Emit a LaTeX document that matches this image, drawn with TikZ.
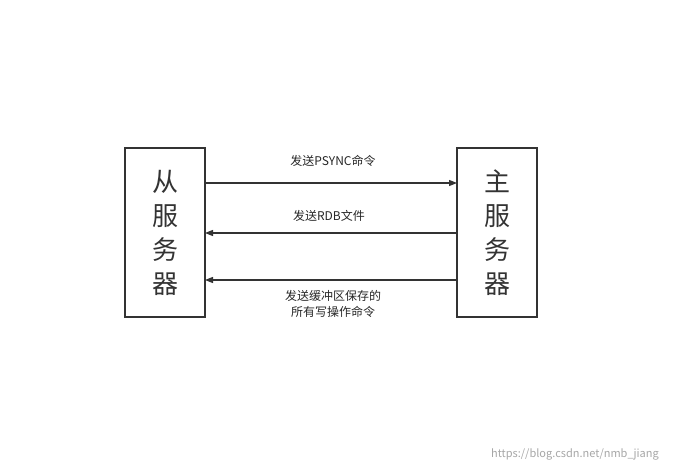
\documentclass[tikz,border=0pt]{standalone}
\usepackage{fontspec}
\setmainfont{Noto Sans CJK SC}
\usetikzlibrary{arrows.meta}
\tikzset{
  server/.style={draw=black!80, line width=1.2pt, minimum width=80pt, minimum height=169pt, align=center, font=\fontsize{26}{34}\selectfont, text=black!80},
  msg/.style={-{Triangle[length=8pt,width=6pt]}, line width=1.2pt, draw=black!80},
  lbl/.style={font=\fontsize{12}{16}\selectfont, text=black!85, align=center}
}
\begin{document}
\begin{tikzpicture}[x=1pt,y=-1pt]
\useasboundingbox (0,0) rectangle (689,472);
% servers
\node[server] (slave) at (165,232.5) {从\\服\\务\\器};
\node[server] (master) at (497,232.5) {主\\服\\务\\器};
% messages
\coordinate (s1) at (205,183); \coordinate (m1) at (457,183);
\coordinate (s2) at (205,233); \coordinate (m2) at (457,233);
\coordinate (s3) at (205,280); \coordinate (m3) at (457,280);
\draw[msg] (s1) -- (m1);
\draw[msg] (m2) -- (s2);
\draw[msg] (m3) -- (s3);
\node[lbl] (l1) at (333,161) {发送PSYNC命令};
\node[lbl] (l2) at (329,216) {发送RDB文件};
\node[lbl] (l3) at (333,304) {发送缓冲区保存的\\所有写操作命令};
% watermark
\node[font=\fontsize{11}{13}\selectfont, text=black!35] (wm) at (575,454) {https://blog.csdn.net/nmb\_jiang};
\end{tikzpicture}
\end{document}
